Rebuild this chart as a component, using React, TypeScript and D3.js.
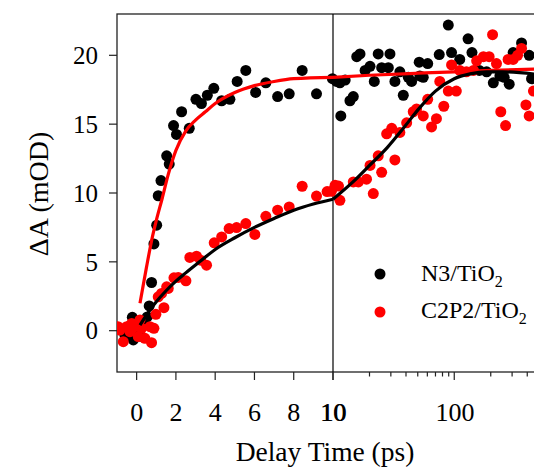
import React from "react";
import * as d3 from "d3";

const width = 534;
const height = 475;
const margin = { top: 14, left: 117, bottom: 372, right: 539 };
const red = "#ff0000";
const font = "'Liberation Serif', 'Times New Roman', serif";

// N3/TiO2 (black dots)
const n3T = [-0.9, -0.6, -0.3, -0.17, -0.22, 0.0, 0.2, 0.35, 0.54, 0.64, 0.76, 0.88, 1.02, 1.1, 1.24, 1.53, 1.66, 1.88, 2.03, 2.29, 2.68, 3.02, 3.3, 3.6, 3.93, 4.33, 4.75, 5.12, 5.56, 6.06, 6.58, 7.18, 7.77, 8.43, 9.16, 9.97, 10.7, 11.4, 11.6, 12.6, 13.8, 14.7, 15.7, 16.7, 18.4, 20.2, 21.9, 23.6, 25.2, 28.6, 29.5, 32.4, 35.6, 38, 41.8, 44.5, 51.4, 52, 55.5, 60.4, 75.2, 89.3, 95, 111, 130, 140, 161, 185, 210, 238, 258, 284, 306, 359, 415, 434];
const n3Y = [0.2, -0.3, 0.4, -0.67, 0.97, 0.1, -0.4, 0.5, 1.0, 1.8, 3.5, 6.3, 7.66, 9.8, 10.9, 12.7, 12.1, 14.9, 14.25, 15.9, 14.7, 16.8, 16.5, 17.1, 17.6, 16.7, 16.8, 18.1, 18.9, 17.3, 18.0, 17.0, 17.2, 18.9, 17.2, 18.3, 18.1, 18.0, 15.6, 18.2, 16.7, 17.0, 19.9, 20.1, 18.9, 19.2, 18.1, 20.1, 19.1, 19.1, 20.1, 18.1, 18.8, 17.1, 18.4, 18.1, 19.5, 18.5, 18.4, 19.4, 20.05, 22.2, 20.2, 19.7, 21.2, 20.2, 18.9, 18.8, 18.0, 18.5, 18.4, 17.9, 20.2, 20.9, 20.0, 18.3];

// C2P2/TiO2 (red dots)
const c2T = [-0.95, -0.85, -0.68, -0.51, -0.34, -0.25, -0.09, 0.08, 0.17, 0.25, 0.42, 0.68, 0.76, 0.88, 0.98, 1.1, 1.27, 1.39, 1.53, 1.61, 1.9, 2.12, 2.51, 2.71, 3.05, 3.26, 3.56, 3.95, 4.33, 4.71, 5.09, 5.56, 6.02, 6.58, 7.18, 7.77, 8.43, 9.16, 9.7, 9.92, 10.4, 11.1, 11.4, 14.7, 16.2, 18.9, 20.2, 21.5, 23.6, 25.2, 27.7, 30.5, 32.4, 35.6, 40.5, 45.9, 48.9, 55.5, 60.4, 65, 71.3, 76, 82, 89.3, 95, 104, 111, 126, 144, 153, 174, 194, 207, 223, 242, 265, 278, 306, 333, 359, 390, 415, 450];
const c2Y = [0.29, 0.05, -0.8, 0.29, -0.07, 0.53, 0.29, -0.43, 0.78, 0.17, -0.55, 0.29, -0.87, 0.17, 1.19, 2.46, 2.71, 1.67, 3.19, 3.07, 3.84, 3.87, 3.62, 5.32, 5.41, 5.12, 4.76, 6.38, 6.81, 7.42, 7.49, 7.78, 6.99, 8.31, 8.75, 8.99, 10.49, 9.78, 10.1, 10.12, 10.56, 10.5, 9.47, 10.8, 10.8, 11.0, 12.0, 9.96, 12.7, 11.5, 14.3, 14.7, 12.4, 14.4, 15.1, 15.9, 16.1, 15.6, 16.8, 14.8, 15.4, 18.1, 16.3, 17.4, 19.3, 17.4, 18.9, 18.8, 18.9, 19.6, 19.9, 19.9, 21.5, 19.4, 15.9, 14.9, 19.7, 19.7, 20.0, 20.5, 16.4, 15.6, 17.4];

// fit curves
const redFitT = [0.17, 0.5, 0.8, 1.0, 1.3, 1.6, 2.0, 2.5, 3.0, 3.5, 4.0, 5.0, 6.0, 7.0, 8.0, 10, 20, 50, 100, 200, 500];
const redFitY = [2.0, 4.6, 6.8, 8.0, 9.6, 11.3, 13.1, 14.5, 15.3, 15.9, 16.5, 17.3, 17.8, 18.1, 18.3, 18.4, 18.55, 18.7, 18.8, 18.9, 19.0];
const blackFitT = [0.17, 0.68, 1.0, 1.5, 2.0, 2.5, 3.2, 4.0, 5.0, 6.0, 7.0, 8.0, 9.0, 10, 15, 20, 28, 38, 52, 70, 100, 135, 185, 250, 500];
const blackFitY = [0.4, 1.5, 2.1, 2.9, 3.6, 4.2, 5.0, 5.9, 6.75, 7.5, 8.15, 8.75, 9.2, 9.55, 10.9, 12.0, 13.3, 14.7, 16.2, 17.4, 18.3, 18.65, 18.8, 18.8, 18.6];

const linTicks = [0, 2, 4, 6, 8, 10];
const logMajor = [10, 100];
const logMinor = [20, 30, 40, 50, 60, 70, 80, 90, 200, 300, 400, 500];
const yTicks = [0, 5, 10, 15, 20];

const split = 333;
const xLin = d3.scaleLinear().domain([-1, 10]).range([margin.left, split]);
const xLog = d3.scaleLog().domain([10, 500]).range([split, margin.right]);
const x = (t: number) => (t <= 10 ? xLin(t) : xLog(t));
const y = d3.scaleLinear().domain([-3, 23]).range([margin.bottom, margin.top]);

const lineGen = d3
  .line<[number, number]>()
  .x(d => x(d[0]))
  .y(d => y(d[1]))
  .curve(d3.curveMonotoneX);

// draw the linear and log parts separately so the kink at 10 stays
function fitPaths(ts: number[], ys: number[]) {
  const pts = ts.map((t, i) => [t, ys[i]] as [number, number]);
  return [lineGen(pts.filter(p => p[0] <= 10)), lineGen(pts.filter(p => p[0] >= 10))];
}

export default function App() {
  const redFit = fitPaths(redFitT, redFitY);
  const blackFit = fitPaths(blackFitT, blackFitY);
  return (
    <svg
      width={width}
      height={height}
      style={{ position: "absolute", left: 0, top: 0, background: "#fff" }}
      fontFamily={font}
    >
      <defs>
        <clipPath id="plot">
          <rect x={margin.left} y={margin.top} width={margin.right - margin.left} height={margin.bottom - margin.top} />
        </clipPath>
      </defs>

      {/* frame */}
      <rect
        x={margin.left}
        y={margin.top}
        width={margin.right - margin.left}
        height={margin.bottom - margin.top}
        fill="none"
        stroke="#222"
        strokeWidth={1.3}
      />
      <line x1={split} x2={split} y1={margin.top} y2={margin.bottom} stroke="#000" strokeWidth={1.2} />

      {/* y axis */}
      {yTicks.map(v => (
        <g key={"y" + v}>
          <line x1={margin.left - 8} x2={margin.left} y1={y(v)} y2={y(v)} stroke="#222" strokeWidth={1.2} />
          <text x={98} y={y(v)} dy="0.35em" textAnchor="end" fontSize={25}>
            {v}
          </text>
        </g>
      ))}

      {/* x axis, linear part */}
      {linTicks.map(v => (
        <g key={"xl" + v}>
          <line x1={xLin(v)} x2={xLin(v)} y1={margin.bottom} y2={margin.bottom + 8} stroke="#222" strokeWidth={1.2} />
          <text x={xLin(v)} y={421} textAnchor="middle" fontSize={26}>
            {v}
          </text>
        </g>
      ))}
      {/* x axis, log part */}
      {logMajor.map(v => (
        <g key={"xm" + v}>
          <line x1={xLog(v)} x2={xLog(v)} y1={margin.bottom} y2={margin.bottom + 8} stroke="#222" strokeWidth={1.2} />
          <text x={xLog(v) + 0.8} y={421} textAnchor="middle" fontSize={26}>
            {v}
          </text>
        </g>
      ))}
      {logMinor.map(v => (
        <line key={"xn" + v} x1={xLog(v)} x2={xLog(v)} y1={margin.bottom} y2={margin.bottom + 4.5} stroke="#222" strokeWidth={1.2} />
      ))}

      <text x={325} y={461} textAnchor="middle" fontSize={27.5}>
        Delay Time (ps)
      </text>
      <text transform="translate(48,194) rotate(-90)" textAnchor="middle" fontSize={28}>
        ΔA (mOD)
      </text>

      <g clipPath="url(#plot)">
        {n3T.map((t, i) => (
          <circle key={"b" + i} cx={x(t)} cy={y(n3Y[i])} r={5.5} fill="#000" />
        ))}
        {c2T.map((t, i) => (
          <circle key={"r" + i} cx={x(t)} cy={y(c2Y[i])} r={5.5} fill={red} />
        ))}
        {redFit.map((d, i) => (
          <path key={"rf" + i} d={d || ""} fill="none" stroke={red} strokeWidth={3.2} />
        ))}
        {blackFit.map((d, i) => (
          <path key={"bf" + i} d={d || ""} fill="none" stroke="#000" strokeWidth={3.2} />
        ))}
      </g>

      {/* legend */}
      <circle cx={380} cy={274} r={5.5} fill="#000" />
      <text x={421} y={281} fontSize={24}>
        N3/TiO<tspan dy={6} fontSize={16}>2</tspan>
      </text>
      <circle cx={380} cy={312} r={5.5} fill={red} />
      <text x={421} y={318} fontSize={24}>
        C2P2/TiO<tspan dy={6} fontSize={16}>2</tspan>
      </text>
    </svg>
  );
}
